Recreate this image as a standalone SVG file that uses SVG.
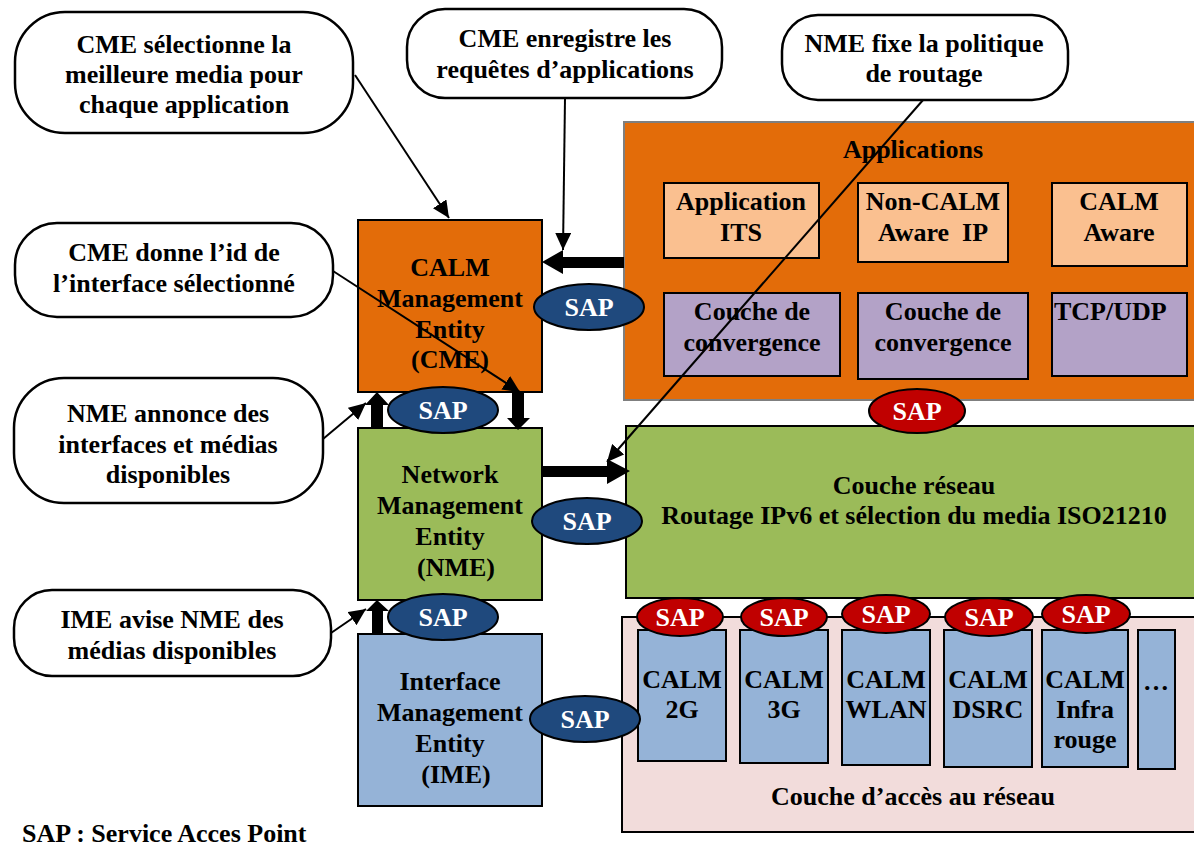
<svg xmlns="http://www.w3.org/2000/svg" width="1194" height="849" viewBox="0 0 1194 849">
  <style>
    text { font-family: "Liberation Serif", "Times New Roman", serif; font-weight: bold; font-size: 26px; fill: #000; text-anchor: middle; }
    .callout { fill: #fff; stroke: #000; stroke-width: 2.5; }
    .box { stroke: #000; stroke-width: 2; }
    .cme { fill: #E36C09; }
    .nme { fill: #9BBB59; }
    .ime { fill: #95B3D7; }
    .app { fill: #FAC090; }
    .conv { fill: #B3A2C7; }
    .sap-blue { fill: #1F497D; stroke: #000; stroke-width: 2; }
    .sap-red { fill: #C00000; stroke: #000; stroke-width: 2; }
    .sap-label { fill: #fff; }
    .thin { stroke: #000; stroke-width: 2; fill: none; marker-end: url(#head); }
    .thick { fill: #000; }
  </style>
  <defs>
    <marker id="head" markerUnits="userSpaceOnUse" markerWidth="18" markerHeight="16" refX="17" refY="8" orient="auto">
      <path d="M0,0 L17,8 L0,16 z" fill="#000"/>
    </marker>
  </defs>

  <rect width="1194" height="849" fill="#fff"/>

  <!-- Layer stack on the right -->
  <g id="applications">
    <rect x="624" y="122" width="580" height="278" fill="#E36C09" stroke="#7F7F7F" stroke-width="2"/>
    <text x="913" y="158">Applications</text>
  </g>
  <g id="app-its">
    <rect class="box app" x="664" y="183" width="155" height="75"/>
    <text x="741" y="210">Application</text>
    <text x="741" y="241">ITS</text>
  </g>
  <g id="app-noncalm">
    <rect class="box app" x="858" y="183" width="150" height="79"/>
    <text x="933" y="210">Non-CALM</text>
    <text x="933" y="241" style="white-space:pre">Aware  IP</text>
  </g>
  <g id="app-calm">
    <rect class="box app" x="1052" y="183" width="135" height="83"/>
    <text x="1119" y="210">CALM</text>
    <text x="1119" y="241">Aware</text>
  </g>
  <g id="conv-1">
    <rect class="box conv" x="664" y="293" width="176" height="83"/>
    <text x="752" y="320">Couche de</text>
    <text x="752" y="351">convergence</text>
  </g>
  <g id="conv-2">
    <rect class="box conv" x="858" y="293" width="170" height="86"/>
    <text x="943" y="320">Couche de</text>
    <text x="943" y="351">convergence</text>
  </g>
  <g id="tcp-udp">
    <rect class="box conv" x="1052" y="293" width="135" height="83"/>
    <text x="1054" y="320" style="text-anchor:start">TCP/UDP</text>
  </g>

  <g id="couche-reseau">
    <rect class="box nme" x="626" y="426" width="578" height="172"/>
    <text x="914" y="494">Couche réseau</text>
    <text x="914" y="524">Routage IPv6 et sélection du media ISO21210</text>
  </g>

  <g id="couche-acces">
    <rect class="box" x="622" y="617" width="582" height="215" fill="#F2DCDB"/>
    <text x="913" y="805">Couche d’accès au réseau</text>
  </g>
  <g id="calm-2g">
    <rect class="box ime" x="638" y="630" width="88" height="131"/>
    <text x="682" y="688">CALM</text>
    <text x="682" y="718">2G</text>
  </g>
  <g id="calm-3g">
    <rect class="box ime" x="740" y="630" width="88" height="133"/>
    <text x="784" y="688">CALM</text>
    <text x="784" y="718">3G</text>
  </g>
  <g id="calm-wlan">
    <rect class="box ime" x="842" y="630" width="88" height="135"/>
    <text x="886" y="688">CALM</text>
    <text x="886" y="718">WLAN</text>
  </g>
  <g id="calm-dsrc">
    <rect class="box ime" x="944" y="630" width="88" height="137"/>
    <text x="988" y="688">CALM</text>
    <text x="988" y="718">DSRC</text>
  </g>
  <g id="calm-infra">
    <rect class="box ime" x="1042" y="630" width="86" height="137"/>
    <text x="1085" y="688">CALM</text>
    <text x="1085" y="718">Infra</text>
    <text x="1085" y="748">rouge</text>
  </g>
  <g id="calm-more">
    <rect class="box ime" x="1138" y="630" width="37" height="139"/>
    <text x="1156" y="690">…</text>
  </g>

  <!-- Management entities -->
  <g id="cme">
    <rect class="box cme" x="358" y="220" width="184" height="172"/>
    <text x="450" y="276">CALM</text>
    <text x="450" y="307">Management</text>
    <text x="450" y="338">Entity</text>
    <text x="450" y="368">(CME)</text>
  </g>
  <g id="nme">
    <rect class="box nme" x="358" y="428" width="184" height="172"/>
    <text x="450" y="483">Network</text>
    <text x="450" y="514">Management</text>
    <text x="450" y="545">Entity</text>
    <text x="456" y="576">(NME)</text>
  </g>
  <g id="ime">
    <rect class="box ime" x="358" y="634" width="184" height="172"/>
    <text x="450" y="690">Interface</text>
    <text x="450" y="721">Management</text>
    <text x="450" y="752">Entity</text>
    <text x="456" y="783">(IME)</text>
  </g>

  <!-- Service access points -->
  <g id="sap-cme-app"><ellipse class="sap-blue" cx="589" cy="307" rx="55" ry="23"/><text class="sap-label" x="589" y="316">SAP</text></g>
  <g id="sap-cme-nme"><ellipse class="sap-blue" cx="443" cy="410" rx="55" ry="23"/><text class="sap-label" x="443" y="419">SAP</text></g>
  <g id="sap-nme-net"><ellipse class="sap-blue" cx="587" cy="521" rx="55" ry="23"/><text class="sap-label" x="587" y="530">SAP</text></g>
  <g id="sap-nme-ime"><ellipse class="sap-blue" cx="443" cy="617" rx="55" ry="23"/><text class="sap-label" x="443" y="626">SAP</text></g>
  <g id="sap-ime-acc"><ellipse class="sap-blue" cx="585" cy="719" rx="55" ry="23"/><text class="sap-label" x="585" y="728">SAP</text></g>
  <g id="sap-app-net"><ellipse class="sap-red" cx="917" cy="411" rx="48" ry="22"/><text class="sap-label" x="917" y="420">SAP</text></g>
  <g id="sap-2g"><ellipse class="sap-red" cx="680" cy="617" rx="43" ry="19"/><text class="sap-label" x="680" y="626">SAP</text></g>
  <g id="sap-3g"><ellipse class="sap-red" cx="784" cy="617" rx="43" ry="19"/><text class="sap-label" x="784" y="626">SAP</text></g>
  <g id="sap-wlan"><ellipse class="sap-red" cx="886" cy="614" rx="44" ry="19"/><text class="sap-label" x="886" y="623">SAP</text></g>
  <g id="sap-dsrc"><ellipse class="sap-red" cx="989" cy="617" rx="44" ry="19"/><text class="sap-label" x="989" y="626">SAP</text></g>
  <g id="sap-infra"><ellipse class="sap-red" cx="1086" cy="614" rx="44" ry="19"/><text class="sap-label" x="1086" y="623">SAP</text></g>

  <!-- Callouts -->
  <g id="callout-select">
    <rect class="callout" x="15" y="12" width="338" height="121" rx="50"/>
    <text x="184" y="53">CME sélectionne la</text>
    <text x="184" y="83">meilleure media pour</text>
    <text x="184" y="113">chaque application</text>
  </g>
  <g id="callout-register">
    <rect class="callout" x="407" y="9" width="315" height="89" rx="38"/>
    <text x="565" y="47">CME enregistre les</text>
    <text x="565" y="78">requêtes d’applications</text>
  </g>
  <g id="callout-routing">
    <rect class="callout" x="782" y="15" width="286" height="85" rx="36"/>
    <text x="924" y="52">NME fixe la politique</text>
    <text x="924" y="82">de routage</text>
  </g>
  <g id="callout-id">
    <rect class="callout" x="15" y="223" width="318" height="94" rx="42"/>
    <text x="174" y="261">CME donne l’id de</text>
    <text x="174" y="292">l’interface sélectionné</text>
  </g>
  <g id="callout-announce">
    <rect class="callout" x="14" y="378" width="309" height="125" rx="50"/>
    <text x="168" y="422">NME annonce des</text>
    <text x="168" y="453">interfaces et médias</text>
    <text x="168" y="483">disponibles</text>
  </g>
  <g id="callout-notify">
    <rect class="callout" x="14" y="590" width="317" height="86" rx="38"/>
    <text x="172" y="628">IME avise NME des</text>
    <text x="172" y="659">médias disponibles</text>
  </g>

  <!-- Connectors -->
  <g id="connectors">
    <polygon class="thick" points="624,257 563,257 563,250 542,262 563,274 563,268 624,268"/>
    <polygon class="thick" points="542,466 607,466 607,459 630,471 607,484 607,477 542,477"/>
    <polygon class="thick" points="371,428 371,405 365,405 377,392 389,405 383,405 383,428"/>
    <polygon class="thick" points="512,392 512,418 507,418 518,430 530,418 524,418 524,392"/>
    <polygon class="thick" points="372,634 372,611 366,611 377,600 389,611 383,611 383,634"/>

    <line class="thin" x1="355" y1="75" x2="449" y2="218"/>
    <line class="thin" x1="565" y1="98" x2="563" y2="250"/>
    <line class="thin" x1="923" y1="100" x2="607" y2="462"/>
    <line class="thin" x1="333" y1="271" x2="520" y2="392"/>
    <line class="thin" x1="323" y1="439" x2="366" y2="403"/>
    <line class="thin" x1="331" y1="633" x2="366" y2="609"/>
  </g>

  <text x="22" y="842" style="text-anchor:start">SAP : Service Acces Point</text>
</svg>
